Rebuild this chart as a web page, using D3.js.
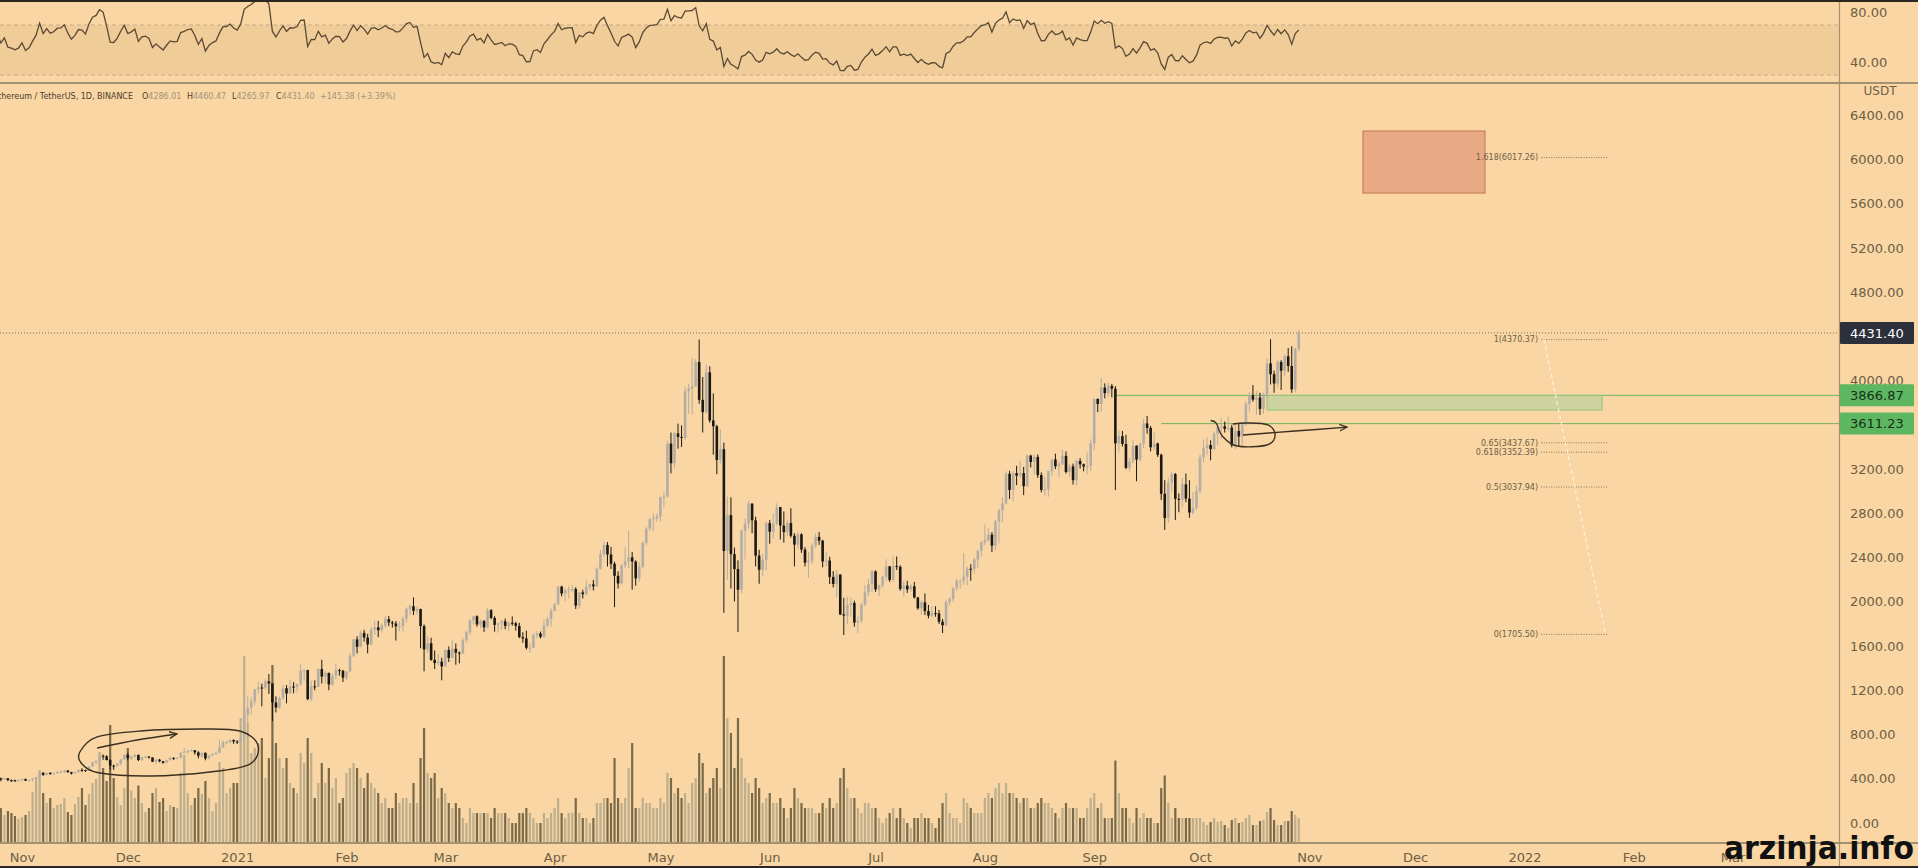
<!DOCTYPE html>
<html>
<head>
<meta charset="utf-8">
<script src="https://cdn.jsdelivr.net/npm/d3@7"></script>
<style>
  body { margin: 0; background: #f9d6a3; overflow: hidden; }
  svg { display: block; }
  text { font-family: "DejaVu Sans", sans-serif; }
</style>
</head>
<body>
<svg id="chart"></svg>
<script>
// ---------- data (ETH/USDT daily, Binance) ----------
// closes used only to warm up the RSI: 15 Sep - 23 Oct 2020
var warmupCloses = [365, 389, 388, 384, 385, 371, 341, 345, 321, 349, 352, 355, 357, 354, 360, 360,
  353, 346, 347, 352, 353, 340, 341, 350, 365, 370, 375, 386, 381, 379, 377, 366, 368, 378, 379, 368, 392, 414, 409];

// candles from 24 Oct 2020 to 29 Oct 2021, one line per month
var firstDay = "2020-10-24";
var closes = [
  411, 406, 393, 404, 388, 386, 383, 386,
  396, 383, 388, 401, 415, 454, 435, 453, 444, 449, 462, 463, 475, 460, 448, 460, 480, 479, 472, 510, 548, 560, 608, 603, 569, 518, 517, 538, 575, 616,
  587, 598, 616, 569, 596, 601, 592, 554, 573, 559, 546, 568, 590, 586, 589, 636, 643, 654, 658, 638, 608, 635, 583, 611, 626, 635, 683, 730, 731, 751, 737,
  730, 774, 975, 1041, 1100, 1208, 1225, 1224, 1281, 1262, 1090, 1044, 1130, 1218, 1171, 1233, 1230, 1257, 1377, 1382, 1120, 1236, 1233, 1392, 1324, 1357, 1253, 1332, 1382, 1377, 1314,
  1370, 1512, 1660, 1593, 1719, 1677, 1614, 1750, 1769, 1743, 1785, 1843, 1814, 1804, 1779, 1781, 1848, 1937, 1960, 1919, 1935, 1781, 1570, 1626, 1475, 1446, 1459, 1416,
  1564, 1492, 1575, 1541, 1533, 1655, 1723, 1834, 1869, 1795, 1826, 1769, 1924, 1854, 1791, 1806, 1823, 1782, 1810, 1806, 1782, 1681, 1669, 1584, 1585, 1700, 1714, 1683, 1786, 1846, 1918,
  1977, 2138, 2075, 2106, 2112, 2116, 1966, 2085, 2069, 2135, 2157, 2140, 2299, 2432, 2514, 2428, 2344, 2235, 2166, 2330, 2365, 2402, 2364, 2212, 2318, 2534, 2662, 2746, 2756, 2772,
  2945, 2952, 3431, 3253, 3523, 3491, 3482, 3903, 3928, 3948, 4169, 3826, 3715, 4075, 3640, 3587, 3282, 3380, 2460, 2784, 2431, 2296, 2109, 2643, 2707, 2888, 2737, 2418, 2290, 2380, 2712,
  2634, 2707, 2856, 2689, 2630, 2712, 2597, 2517, 2610, 2472, 2354, 2372, 2508, 2587, 2553, 2365, 2373, 2225, 2161, 2247, 1886, 1875, 1972, 1990, 1812, 1829, 1977, 2087, 2160, 2275,
  2112, 2150, 2226, 2320, 2198, 2324, 2317, 2117, 2146, 2112, 2141, 2039, 1941, 1995, 1916, 1875, 1898, 1895, 1820, 1788, 1996, 2025, 2124, 2188, 2190, 2227, 2299, 2298, 2383, 2461, 2536,
  2557, 2608, 2508, 2725, 2828, 2890, 3157, 3012, 3163, 3141, 3164, 3046, 3322, 3265, 3310, 3146, 3012, 3017, 3182, 3287, 3226, 3243, 3320, 3174, 3225, 3100, 3274, 3243, 3224, 3227, 3433,
  3834, 3789, 3937, 3887, 3952, 3927, 3432, 3498, 3427, 3211, 3270, 3411, 3286, 3429, 3613, 3572, 3397, 3432, 3329, 2977, 2757, 3077, 3155, 2931, 2925, 3062, 2933, 2807, 2849, 3001,
  3307, 3391, 3418, 3381, 3518, 3580, 3587, 3563, 3575, 3415, 3545, 3495, 3606, 3790, 3867, 3828, 3847, 3744, 3878, 4156, 4058, 3974, 4169, 4089, 4220, 4132, 3921, 4286.01, 4431.40
];
var highs = [
  418, 415, 410, 409, 406, 393, 392, 396,
  400, 403, 392, 409, 418, 457, 460, 457, 460, 458, 468, 477, 478, 476, 463, 465, 490, 495, 482, 514, 555, 568, 610, 620, 612, 578, 528, 542, 578, 620,
  634, 607, 622, 618, 598, 606, 605, 594, 577, 580, 561, 572, 595, 592, 594, 639, 676, 658, 665, 659, 649, 637, 637, 615, 630, 648, 750, 745, 741, 754, 755,
  749, 787, 1011, 1153, 1134, 1210, 1280, 1260, 1300, 1347, 1262, 1145, 1143, 1250, 1247, 1298, 1274, 1260, 1440, 1390, 1386, 1287, 1290, 1397, 1476, 1373, 1360, 1350, 1440, 1395, 1384,
  1373, 1540, 1665, 1690, 1735, 1746, 1710, 1770, 1830, 1827, 1800, 1870, 1871, 1828, 1826, 1825, 1867, 1950, 1974, 2040, 1958, 1938, 1795, 1690, 1675, 1560, 1530, 1495,
  1570, 1596, 1652, 1624, 1550, 1675, 1735, 1839, 1875, 1878, 1840, 1836, 1945, 1935, 1870, 1815, 1835, 1849, 1820, 1868, 1820, 1810, 1725, 1739, 1630, 1715, 1735, 1731, 1840, 1860, 1942,
  1993, 2145, 2145, 2125, 2140, 2152, 2132, 2090, 2109, 2193, 2162, 2198, 2312, 2468, 2545, 2540, 2497, 2362, 2276, 2341, 2493, 2644, 2450, 2375, 2359, 2545, 2675, 2757, 2798, 2800,
  2950, 3000, 3457, 3530, 3540, 3611, 3594, 3945, 3970, 4200, 4195, 4372, 4033, 4145, 4130, 3885, 3600, 3562, 3440, 2950, 2945, 2490, 2375, 2658, 2750, 2912, 2890, 2770, 2470, 2436, 2722,
  2740, 2800, 2891, 2858, 2817, 2744, 2846, 2620, 2630, 2620, 2494, 2450, 2529, 2617, 2632, 2560, 2453, 2408, 2278, 2288, 2248, 2035, 2043, 2040, 2010, 1873, 1990, 2150, 2205, 2290,
  2285, 2155, 2237, 2385, 2325, 2410, 2410, 2330, 2187, 2190, 2160, 2180, 2045, 2010, 2075, 1972, 1960, 1960, 1925, 1845, 2018, 2045, 2130, 2210, 2200, 2440, 2320, 2340, 2400, 2470, 2550,
  2700, 2665, 2630, 2740, 2840, 2943, 3180, 3185, 3180, 3230, 3275, 3220, 3335, 3330, 3332, 3333, 3170, 3130, 3185, 3290, 3340, 3270, 3375, 3360, 3250, 3250, 3285, 3300, 3250, 3350, 3470,
  3840, 3840, 4027, 3975, 3985, 3970, 3950, 3550, 3545, 3510, 3300, 3460, 3415, 3440, 3655, 3680, 3590, 3530, 3440, 3340, 3100, 3120, 3175, 3165, 2980, 3118, 3160, 3100, 2990, 3050,
  3330, 3470, 3490, 3460, 3540, 3600, 3660, 3630, 3675, 3600, 3600, 3610, 3620, 3815, 3895, 3960, 3905, 3890, 3890, 4200, 4375, 4090, 4185, 4185, 4240, 4295, 4310, 4295, 4460.47
];
var lows = [
  406, 401, 377, 392, 378, 371, 374, 378,
  382, 380, 376, 375, 398, 410, 425, 431, 436, 440, 446, 451, 451, 454, 438, 444, 455, 462, 462, 470, 510, 530, 548, 571, 566, 480, 480, 505, 523, 570,
  566, 567, 590, 560, 562, 587, 582, 551, 531, 549, 535, 544, 565, 570, 577, 584, 630, 623, 646, 618, 585, 589, 567, 575, 605, 617, 630, 680, 712, 720, 716,
  715, 716, 768, 900, 984, 1064, 1168, 1055, 1210, 1167, 920, 1000, 1032, 1115, 1082, 1170, 1173, 1180, 1240, 1287, 1110, 1100, 1200, 1226, 1261, 1262, 1200, 1240, 1300, 1333, 1275,
  1293, 1364, 1500, 1533, 1592, 1640, 1535, 1609, 1700, 1680, 1722, 1765, 1780, 1767, 1650, 1735, 1730, 1813, 1880, 1880, 1885, 1580, 1371, 1540, 1466, 1392, 1424, 1290,
  1413, 1456, 1489, 1431, 1444, 1524, 1630, 1700, 1793, 1775, 1764, 1728, 1760, 1843, 1730, 1720, 1746, 1752, 1733, 1784, 1740, 1671, 1630, 1568, 1540, 1582, 1668, 1668, 1673, 1770, 1773,
  1914, 1970, 2050, 2006, 2031, 2088, 1935, 1940, 2030, 2060, 2105, 2102, 2132, 2292, 2405, 2320, 2297, 1952, 2120, 2159, 2306, 2306, 2110, 2145, 2180, 2300, 2515, 2641, 2640, 2723,
  2723, 2855, 2943, 3162, 3206, 3385, 3400, 3465, 3700, 3692, 3945, 3791, 3531, 3700, 3620, 3330, 3154, 3250, 1900, 2200, 2120, 2003, 1728, 2080, 2383, 2662, 2620, 2320, 2163, 2230, 2284,
  2525, 2570, 2692, 2563, 2535, 2592, 2580, 2320, 2480, 2443, 2320, 2218, 2340, 2485, 2515, 2312, 2322, 2160, 2130, 2040, 1880, 1700, 1800, 1865, 1775, 1717, 1807, 1962, 2053, 2090,
  2090, 2050, 2128, 2190, 2180, 2185, 2288, 2100, 2050, 2080, 2090, 2030, 1929, 1880, 1880, 1850, 1860, 1865, 1800, 1718, 1782, 1965, 2000, 2100, 2120, 2155, 2150, 2190, 2255, 2300, 2412,
  2510, 2545, 2450, 2470, 2530, 2720, 2880, 2930, 2905, 3055, 3120, 2965, 3040, 3215, 3150, 3120, 2990, 2960, 2950, 3140, 3200, 3130, 3240, 3160, 3130, 3060, 3055, 3205, 3180, 3155, 3180,
  3370, 3715, 3720, 3840, 3860, 3850, 3010, 3350, 3405, 3200, 3180, 3250, 3090, 3270, 3390, 3520, 3360, 3370, 3310, 2920, 2650, 2715, 2990, 2740, 2810, 2855, 2900, 2760, 2790, 2825,
  2980, 3260, 3330, 3280, 3370, 3415, 3475, 3530, 3540, 3396, 3380, 3400, 3420, 3590, 3720, 3810, 3690, 3690, 3700, 3840, 3965, 3890, 3940, 3915, 4042, 4080, 3890, 3895, 4265.97
];
// volume, thousands of ETH
var volumes = [
  420, 520, 700, 560, 640, 600, 540, 480,
  520, 560, 640, 1020, 1300, 1460, 1000, 800, 900, 700, 760, 780, 900, 620, 560, 780, 920, 1100, 760, 980, 1200, 1280, 1820, 1500, 1240, 2360, 1300, 920, 760, 1100,
  1900, 1050, 900, 1150, 800, 620, 700, 1000, 1100, 820, 900, 640, 760, 720, 700, 1400, 1760, 1000, 760, 900, 1100, 980, 1240, 900, 640, 800, 1620, 1500, 1000, 1100, 1200,
  1200, 2500, 3740, 2400, 1800, 1900, 2000, 2100, 1300, 1700, 3560, 2000, 1700, 1500, 1700, 1200, 1100, 1000, 1800, 1600, 2100, 1800, 900, 1200, 1600, 1200, 1500, 1100, 1300, 800, 900,
  1400, 1500, 1600, 1500, 1300, 1100, 1400, 1200, 1100, 1000, 800, 900, 700, 700, 1000, 800, 900, 900, 800, 1200, 800, 1700, 2300, 1400, 1300, 1400, 900, 1100,
  1000, 800, 700, 800, 700, 500, 400, 700, 600, 600, 600, 600, 600, 500, 700, 600, 600, 600, 500, 400, 400, 600, 600, 700, 600, 500, 400, 400, 600, 500, 600,
  700, 900, 600, 500, 600, 600, 900, 600, 500, 500, 400, 500, 800, 800, 900, 900, 800, 1700, 900, 800, 900, 1500, 2000, 700, 700, 900, 800, 800, 700, 700,
  900, 800, 1400, 1300, 1000, 1100, 900, 1000, 800, 1200, 1300, 1800, 1600, 1000, 1100, 1300, 1500, 1100, 3740, 2500, 2200, 1500, 2500, 1700, 1300, 1200, 1000, 1300, 1100, 800, 900,
  1000, 800, 800, 900, 700, 500, 700, 1100, 900, 800, 700, 700, 700, 600, 600, 800, 700, 900, 700, 800, 1300, 1500, 1100, 900, 900, 700, 600, 800, 800, 700,
  700, 500, 400, 500, 600, 700, 500, 700, 500, 400, 300, 500, 500, 600, 500, 500, 400, 300, 500, 800, 1000, 600, 500, 500, 400, 900, 800, 700, 600, 600, 600,
  900, 1000, 900, 1100, 1200, 1000, 1200, 1000, 1000, 900, 800, 900, 900, 700, 700, 800, 900, 800, 800, 700, 600, 500, 700, 800, 700, 700, 700, 500, 500, 700, 900,
  1000, 700, 800, 500, 500, 500, 1650, 1000, 700, 700, 500, 400, 700, 500, 600, 500, 500, 400, 400, 1100, 1350, 800, 500, 700, 500, 500, 500, 500, 500, 500,
  500, 420, 360, 420, 500, 420, 440, 360, 300, 460, 500, 400, 420, 500, 560, 360, 360, 440, 460, 620, 700, 460, 360, 360, 440, 440, 640, 560, 500
];

// price scale ticks
var priceTicks = d3.range(0, 6401, 400);
var rsiTicks = [40, 80];

// annotations: day offsets from 1 Nov 2020, prices in USDT
var fibLevels = [
  { ratio: "1.618", price: 6017.26 },
  { ratio: "1", price: 4370.37 },
  { ratio: "0.65", price: 3437.67 },
  { ratio: "0.618", price: 3352.39 },
  { ratio: "0.5", price: 3037.94 },
  { ratio: "0", price: 1705.50 }
];
var fibSpan = [430.7, 449.7];
var fibTrend = [[431.5, 4370.37], [449, 1705.50]];
var targetBox = { d0: 380.2, d1: 414.8, p0: 5696, p1: 6257 };
var supportBox = { d0: 353, d1: 448, p0: 3734, p1: 3866.87 };
var levelLines = [{ from: 310, price: 3866.87 }, { from: 323, price: 3611.23 }];
var ellipseDec = [[16.4, 642], [21.3, 778], [33.5, 832], [50.5, 850], [61.8, 832], [66.9, 705],
  [64.6, 533], [53.3, 461], [36.3, 425], [22.1, 452], [17.0, 533]];
var arrowDec = [[21.3, 678], [32.6, 750], [43.9, 805]];
var loopOct = [[337.0, 3640], [338.6, 3615], [340.3, 3500], [344.5, 3409], [353.0, 3418], [355.3, 3508],
  [353.3, 3599], [347.3, 3617], [343.3, 3608]];
var arrowOct = [[346.2, 3508], [360.9, 3544], [375.7, 3580]];

var lastPrice = 4431.40;
var badges = [
  { price: 4431.40, fill: "#2b303b", color: "#ffffff" },
  { price: 3866.87, fill: "#5db760", color: "#17301a" },
  { price: 3611.23, fill: "#5db760", color: "#17301a" }
];

// ---------- layout ----------
var W = 1918, H = 868;
var axisX = 1839;
var rsiBottom = 83;
var paneTop = 85, paneBottom = 843;

var svg = d3.select("#chart").attr("width", W).attr("height", H);

var nov1 = Date.UTC(2020, 10, 1);
var x = d3.scaleUtc()
  .domain([new Date(nov1), new Date(Date.UTC(2021, 10, 1))])
  .range([22, 22 + 365 * 3.527]);
var price = d3.scaleLinear().domain([0, 6400]).range([823, 115.2]);
var rsiY = d3.scaleLinear().domain([30, 70]).range([75, 25]);
var volY = d3.scaleLinear().domain([0, d3.max(volumes)]).range([paneBottom, paneBottom - 187]);

function dayAt(d) { return new Date(nov1 + d * 864e5); }
function px(p) { return x(dayAt(p[0])); }
function py(p) { return price(p[1]); }

// build candles (open = previous close, market trades 24/7)
var start = new Date(firstDay + "T00:00:00Z");
var candles = closes.map(function (c, i) {
  return {
    date: d3.utcDay.offset(start, i),
    open: i === 0 ? warmupCloses[warmupCloses.length - 1] : closes[i - 1],
    high: highs[i], low: lows[i], close: c, volume: volumes[i]
  };
});

// RSI(14), Wilder smoothing
var allCloses = warmupCloses.concat(closes);
var rsiStart = d3.utcDay.offset(start, -warmupCloses.length);
var rsi = [];
var ag = 0, al = 0;
for (var i = 1; i < allCloses.length; i++) {
  var ch = allCloses[i] - allCloses[i - 1];
  var g = Math.max(ch, 0), l = Math.max(-ch, 0);
  if (i <= 14) {
    ag += g / 14; al += l / 14;
    if (i < 14) continue;
  } else {
    ag = (ag * 13 + g) / 14; al = (al * 13 + l) / 14;
  }
  rsi.push({ date: d3.utcDay.offset(rsiStart, i), value: al === 0 ? 100 : 100 - 100 / (1 + ag / al) });
}

var defs = svg.append("defs");
defs.append("clipPath").attr("id", "rsiClip")
  .append("rect").attr("x", 0).attr("y", 2).attr("width", axisX).attr("height", rsiBottom - 2);
defs.append("clipPath").attr("id", "mainClip")
  .append("rect").attr("x", 0).attr("y", paneTop).attr("width", axisX).attr("height", paneBottom - paneTop);
defs.append("marker").attr("id", "arrow")
  .attr("viewBox", "0 0 10 10").attr("refX", 9).attr("refY", 5)
  .attr("markerWidth", 6).attr("markerHeight", 6).attr("orient", "auto")
  .append("path").attr("d", "M0,1 L9,5 L0,9")
  .attr("fill", "none").attr("stroke", "#3b2f22").attr("stroke-width", 1.6);

svg.append("rect").attr("width", W).attr("height", H).attr("fill", "#f9d6a3");

// ---------- RSI pane ----------
var rsiG = svg.append("g").attr("clip-path", "url(#rsiClip)");
rsiG.append("rect")
  .attr("x", 0).attr("width", axisX)
  .attr("y", rsiY(70)).attr("height", rsiY(30) - rsiY(70))
  .attr("fill", "#8a5a20").attr("fill-opacity", 0.08);
rsiG.selectAll("line.band").data([70, 30]).enter().append("line")
  .attr("x1", 0).attr("x2", axisX)
  .attr("y1", function (d) { return rsiY(d); }).attr("y2", function (d) { return rsiY(d); })
  .attr("stroke", "#c7ab84").attr("stroke-dasharray", "4,3");
rsiG.append("path").datum(rsi)
  .attr("d", d3.line().x(function (d) { return x(d.date); }).y(function (d) { return rsiY(d.value); }))
  .attr("fill", "none").attr("stroke", "#5a4a33").attr("stroke-width", 1.3);

// ---------- main pane ----------
var main = svg.append("g").attr("clip-path", "url(#mainClip)");

main.selectAll("rect.vol").data(candles).enter().append("rect")
  .attr("x", function (d) { return x(d.date) - 1.1; })
  .attr("width", 2.2)
  .attr("y", function (d) { return volY(d.volume); })
  .attr("height", function (d) { return paneBottom - volY(d.volume); })
  .attr("fill", function (d) { return d.close >= d.open ? "#bdae8e" : "#7b6a49"; });

main.append("line")
  .attr("x1", 0).attr("x2", axisX)
  .attr("y1", price(lastPrice)).attr("y2", price(lastPrice))
  .attr("stroke", "#7d6d55").attr("stroke-dasharray", "1,2");

main.selectAll("line.level").data(levelLines).enter().append("line")
  .attr("x1", function (d) { return x(dayAt(d.from)); }).attr("x2", axisX)
  .attr("y1", function (d) { return price(d.price); }).attr("y2", function (d) { return price(d.price); })
  .attr("stroke", "#72b45e").attr("stroke-width", 1);

main.append("rect")
  .attr("x", x(dayAt(supportBox.d0))).attr("width", x(dayAt(supportBox.d1)) - x(dayAt(supportBox.d0)))
  .attr("y", price(supportBox.p1)).attr("height", price(supportBox.p0) - price(supportBox.p1))
  .attr("fill", "#cdd39e").attr("stroke", "#93c47d");

main.append("rect")
  .attr("x", x(dayAt(targetBox.d0))).attr("width", x(dayAt(targetBox.d1)) - x(dayAt(targetBox.d0)))
  .attr("y", price(targetBox.p1)).attr("height", price(targetBox.p0) - price(targetBox.p1))
  .attr("fill", "#e8a985").attr("stroke", "#c4744d");

var candleG = main.selectAll("g.candle").data(candles).enter().append("g");
candleG.append("line")
  .attr("x1", function (d) { return x(d.date); }).attr("x2", function (d) { return x(d.date); })
  .attr("y1", function (d) { return price(d.high); }).attr("y2", function (d) { return price(d.low); })
  .attr("stroke", function (d) { return d.close >= d.open ? "#b3ada5" : "#1c1814"; });
candleG.append("rect")
  .attr("x", function (d) { return x(d.date) - 1.3; })
  .attr("width", 2.6)
  .attr("y", function (d) { return price(Math.max(d.open, d.close)); })
  .attr("height", function (d) { return Math.max(1, Math.abs(price(d.open) - price(d.close))); })
  .attr("fill", function (d) { return d.close >= d.open ? "#b3ada5" : "#1c1814"; });

// fibonacci extension
var fibG = main.selectAll("g.fib").data(fibLevels).enter().append("g");
fibG.append("line")
  .attr("x1", x(dayAt(fibSpan[0]))).attr("x2", x(dayAt(fibSpan[1])))
  .attr("y1", function (d) { return price(d.price); }).attr("y2", function (d) { return price(d.price); })
  .attr("stroke", "#8a7a60").attr("stroke-dasharray", "1,1.5");
fibG.append("text")
  .attr("x", x(dayAt(fibSpan[0])) - 3)
  .attr("y", function (d) { return price(d.price); })
  .attr("dy", "0.35em").attr("text-anchor", "end")
  .attr("font-size", 8).attr("fill", "#6f5f48")
  .text(function (d) { return d.ratio + "(" + d.price.toFixed(2) + ")"; });
main.append("path").datum(fibTrend)
  .attr("d", d3.line().x(px).y(py))
  .attr("stroke", "#fff6e8").attr("stroke-opacity", 0.9)
  .attr("stroke-dasharray", "4,3").attr("stroke-width", 1.2).attr("fill", "none");

// hand-drawn marks
main.append("path").datum(ellipseDec)
  .attr("d", d3.line().x(px).y(py).curve(d3.curveCardinalClosed))
  .attr("fill", "none").attr("stroke", "#3b2f22").attr("stroke-width", 1.4);
main.append("path").datum(arrowDec)
  .attr("d", d3.line().x(px).y(py).curve(d3.curveCardinal))
  .attr("fill", "none").attr("stroke", "#3b2f22").attr("stroke-width", 1.4)
  .attr("marker-end", "url(#arrow)");
main.append("path").datum(loopOct)
  .attr("d", d3.line().x(px).y(py).curve(d3.curveCardinal))
  .attr("fill", "none").attr("stroke", "#3b2f22").attr("stroke-width", 1.4);
main.append("path").datum(arrowOct)
  .attr("d", d3.line().x(px).y(py).curve(d3.curveCardinal))
  .attr("fill", "none").attr("stroke", "#3b2f22").attr("stroke-width", 1.4)
  .attr("marker-end", "url(#arrow)");

// legend line
var legend = svg.append("g").attr("font-size", 8);
legend.append("text").attr("x", 133).attr("y", 99).attr("text-anchor", "end")
  .attr("fill", "#4d4030").text("Ethereum / TetherUS, 1D, BINANCE");
var ohlc = [
  { k: "O", v: "4286.01", x: 142 }, { k: "H", v: "4460.47", x: 187 },
  { k: "L", v: "4265.97", x: 232 }, { k: "C", v: "4431.40", x: 276 }
];
ohlc.forEach(function (d) {
  var t = legend.append("text").attr("x", d.x).attr("y", 99);
  t.append("tspan").attr("fill", "#4d4030").text(d.k);
  t.append("tspan").attr("fill", "#a3937b").text(d.v);
});
legend.append("text").attr("x", 320).attr("y", 99).attr("fill", "#a3937b").text("+145.38 (+3.39%)");

// ---------- frame and axes ----------
svg.append("line").attr("x1", 0).attr("x2", W).attr("y1", rsiBottom).attr("y2", rsiBottom)
  .attr("stroke", "#a4916f").attr("stroke-width", 2);
svg.append("line").attr("x1", 0).attr("x2", W).attr("y1", paneBottom).attr("y2", paneBottom)
  .attr("stroke", "#a4916f").attr("stroke-width", 2);
svg.append("line").attr("x1", axisX + 0.5).attr("x2", axisX + 0.5).attr("y1", 0).attr("y2", H)
  .attr("stroke", "#a4916f").attr("stroke-width", 1.2);

var priceAxis = svg.append("g").attr("transform", "translate(" + axisX + ",0)")
  .call(d3.axisRight(price).tickValues(priceTicks).tickFormat(d3.format(".2f")).tickSize(0).tickPadding(11));
var rsiAxis = svg.append("g").attr("transform", "translate(" + axisX + ",0)")
  .call(d3.axisRight(rsiY).tickValues(rsiTicks).tickFormat(d3.format(".2f")).tickSize(0).tickPadding(11));
var monthTicks = d3.utcMonth.range(new Date(nov1), new Date(Date.UTC(2022, 3, 1)));
var timeAxis = svg.append("g").attr("transform", "translate(0," + paneBottom + ")")
  .call(d3.axisBottom(x).tickValues(monthTicks).tickSize(0).tickPadding(10)
    .tickFormat(function (d) { return d.getUTCMonth() === 0 ? d.getUTCFullYear() : d3.utcFormat("%b")(d); }));
[priceAxis, rsiAxis, timeAxis].forEach(function (a) {
  a.select(".domain").remove();
  a.selectAll("text").attr("font-family", "DejaVu Sans").attr("font-size", 13).attr("fill", "#6e5e45");
});

svg.append("text").attr("x", 1880).attr("y", 95).attr("text-anchor", "middle")
  .attr("font-size", 12).attr("fill", "#6e5e45").text("USDT");

var badgeG = svg.selectAll("g.badge").data(badges).enter().append("g");
badgeG.append("rect")
  .attr("x", axisX + 1).attr("width", 74)
  .attr("y", function (d) { return price(d.price) - 11; }).attr("height", 22)
  .attr("rx", 1).attr("fill", function (d) { return d.fill; });
badgeG.append("text")
  .attr("x", axisX + 11).attr("y", function (d) { return price(d.price); }).attr("dy", "0.36em")
  .attr("font-size", 13).attr("fill", function (d) { return d.color; })
  .text(function (d) { return d.price.toFixed(2); });

svg.append("rect").attr("x", 0).attr("y", 0).attr("width", W).attr("height", 2).attr("fill", "#2a2622");
svg.append("rect").attr("x", 0).attr("y", H - 2).attr("width", W).attr("height", 2).attr("fill", "#2a2622");

// site watermark laid over the time axis, as in the source image
svg.append("text").attr("x", 1724).attr("y", 859)
  .attr("font-family", "'DejaVu Sans Condensed', 'DejaVu Sans', sans-serif")
  .attr("font-stretch", "condensed")
  .attr("font-size", 32).attr("font-weight", "bold").attr("fill", "#111")
  .attr("textLength", 190).attr("lengthAdjust", "spacingAndGlyphs")
  .text("arzinja.info");
</script>
</body>
</html>
